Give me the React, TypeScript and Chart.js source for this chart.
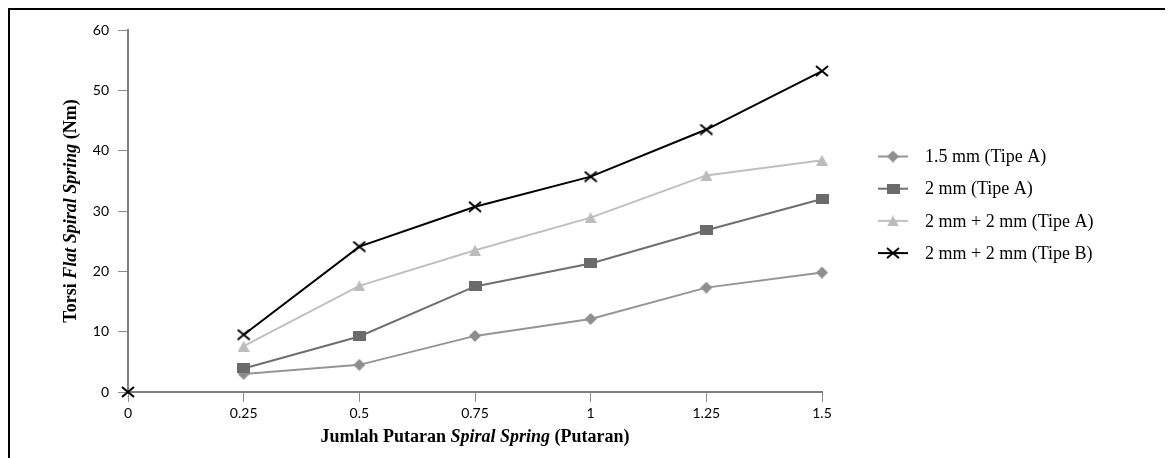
import React, { useEffect, useRef } from 'react';
import { Chart, registerables } from 'chart.js';

Chart.register(...registerables);

// ---- data ----
const xValues = [0.25, 0.5, 0.75, 1, 1.25, 1.5];
const xTickValues = [0, 0.25, 0.5, 0.75, 1, 1.25, 1.5];
const xTickLabels = ['0', '0.25', '0.5', '0.75', '1', '1.25', '1.5'];
const yTickValues = [0, 10, 20, 30, 40, 50, 60];

const series15mmA = [3.0, 4.5, 9.3, 12.1, 17.3, 19.8];
const series2mmA = [3.9, 9.2, 17.5, 21.3, 26.8, 32.0];
const series2p2mmA = [7.6, 17.6, 23.5, 28.9, 35.9, 38.4];
const series2p2mmB = [9.5, 24.1, 30.7, 35.7, 43.5, 53.2];

const originX = [0];
const originY = [0];

const seriesNames = ['1.5 mm (Tipe A)', '2 mm (Tipe A)', '2 mm + 2 mm (Tipe A)', '2 mm + 2 mm (Tipe B)'];

const yTitleParts = [
  { text: 'Torsi ', italic: false },
  { text: 'Flat Spiral Spring', italic: true },
  { text: ' (Nm)', italic: false },
];
const xTitleParts = [
  { text: 'Jumlah Putaran ', italic: false },
  { text: 'Spiral Spring', italic: true },
  { text: ' (Putaran)', italic: false },
];

// ---- marker images ----
function makeMarker(kind: string, color: string): HTMLCanvasElement {
  const c = document.createElement('canvas');
  let w = 12, h = 12;
  if (kind === 'rect') { w = 13; h = 10; }
  if (kind === 'triangle') { w = 12; h = 11; }
  if (kind === 'cross') { w = 14; h = 12; }
  c.width = w; c.height = h;
  const ctx = c.getContext('2d')!;
  ctx.fillStyle = color;
  ctx.strokeStyle = color;
  if (kind === 'diamond') {
    ctx.beginPath();
    ctx.moveTo(w / 2, 0); ctx.lineTo(w, h / 2); ctx.lineTo(w / 2, h); ctx.lineTo(0, h / 2);
    ctx.closePath(); ctx.fill();
  } else if (kind === 'rect') {
    ctx.fillRect(0, 0, w, h);
  } else if (kind === 'triangle') {
    ctx.beginPath();
    ctx.moveTo(w / 2, 0); ctx.lineTo(w, h); ctx.lineTo(0, h);
    ctx.closePath(); ctx.fill();
  } else if (kind === 'cross') {
    ctx.lineWidth = 2;
    ctx.beginPath();
    ctx.moveTo(1, 1); ctx.lineTo(w - 1, h - 1);
    ctx.moveTo(w - 1, 1); ctx.lineTo(1, h - 1);
    ctx.stroke();
  }
  return c;
}

function drawParts(ctx: CanvasRenderingContext2D, parts: { text: string; italic: boolean }[], size: number) {
  const fontFor = (it: boolean) => `${it ? 'italic ' : ''}bold ${size}px "Liberation Serif", "Times New Roman", serif`;
  let total = 0;
  const widths = parts.map(p => { ctx.font = fontFor(p.italic); const w = ctx.measureText(p.text).width; total += w; return w; });
  let x = -total / 2;
  ctx.textAlign = 'left';
  ctx.textBaseline = 'alphabetic';
  parts.forEach((p, i) => { ctx.font = fontFor(p.italic); ctx.fillText(p.text, x, 0); x += widths[i]; });
}

export default function App() {
  const ref = useRef<HTMLCanvasElement | null>(null);

  useEffect(() => {
    if (!ref.current) return;
    const lineColors = ['#959595', '#6f6f6f', '#c0c0c0', '#000000'];
    const markers = [
      makeMarker('diamond', '#8e8e8e'),
      makeMarker('rect', '#6b6b6b'),
      makeMarker('triangle', '#bcbcbc'),
      makeMarker('cross', '#000000'),
    ];
    const allSeries = [series15mmA, series2mmA, series2p2mmA, series2p2mmB];

    const datasets: any[] = allSeries.map((s, k) => ({
      label: seriesNames[k],
      data: xValues.map((x, i) => ({ x, y: s[i] })),
      borderColor: lineColors[k],
      backgroundColor: lineColors[k],
      borderWidth: 2,
      pointStyle: markers[k],
      pointRadius: 6,
      pointHoverRadius: 6,
      tension: 0,
      clip: false,
      order: 4 - k,
    }));
    datasets.push({
      label: 'origin',
      data: originX.map((x, i) => ({ x, y: originY[i] })),
      showLine: false,
      pointStyle: markers[3],
      pointRadius: 6,
      borderColor: '#000',
      backgroundColor: '#000',
      clip: false,
      order: 0,
    });

    const overlay = {
      id: 'overlay',
      afterDraw(chart: any) {
        const ctx: CanvasRenderingContext2D = chart.ctx;
        const ca = chart.chartArea;
        ctx.save();
        ctx.fillStyle = '#000';
        // x title
        ctx.save();
        ctx.translate((ca.left + ca.right) / 2, 432);
        drawParts(ctx, xTitleParts, 18);
        ctx.restore();
        // y title
        ctx.save();
        ctx.translate(66, (ca.top + ca.bottom) / 2);
        ctx.rotate(-Math.PI / 2);
        drawParts(ctx, yTitleParts, 18);
        ctx.restore();
        // legend
        seriesNames.forEach((name, k) => {
          const y = 146.5 + 32.2 * k;
          ctx.strokeStyle = lineColors[k];
          ctx.lineWidth = 2;
          ctx.beginPath();
          ctx.moveTo(868, y);
          ctx.lineTo(898, y);
          ctx.stroke();
          const m = markers[k];
          ctx.drawImage(m, 883 - m.width / 2, y - m.height / 2);
          ctx.fillStyle = '#000';
          ctx.font = '18px "Liberation Serif", "Times New Roman", serif';
          ctx.textAlign = 'left';
          ctx.textBaseline = 'middle';
          ctx.fillText(name, 915, y + 1);
        });
        ctx.restore();
      },
    };

    const chart = new Chart(ref.current, {
      type: 'line',
      data: { datasets },
      plugins: [overlay],
      options: {
        responsive: false,
        animation: false,
        devicePixelRatio: 1,
        layout: { padding: { top: 20, right: 351, left: 0, bottom: 0 } },
        plugins: { legend: { display: false }, tooltip: { enabled: false } },
        scales: {
          x: {
            type: 'linear',
            min: 0,
            max: 1.5,
            afterBuildTicks: (s: any) => { s.ticks = xTickValues.map(v => ({ value: v })); },
            afterFit: (s: any) => { s.height = 66; },
            ticks: {
              callback: (v: any) => {
                const i = xTickValues.findIndex(t => Math.abs(t - Number(v)) < 1e-9);
                return i >= 0 ? xTickLabels[i] : '';
              },
              font: { family: 'Lato', size: 14 },
              color: '#000',
              padding: 3,
              maxRotation: 0,
              autoSkip: false,
            },
            grid: { display: true, drawOnChartArea: false, drawTicks: true, tickLength: 10, color: '#8c8c8c', lineWidth: 1 },
            border: { display: true, color: '#7f7f7f', width: 2 },
          },
          y: {
            type: 'linear',
            min: 0,
            max: 60,
            afterBuildTicks: (s: any) => { s.ticks = yTickValues.map(v => ({ value: v })); },
            afterFit: (s: any) => { s.width = 118; },
            ticks: {
              font: { family: 'Lato', size: 14 },
              color: '#000',
              padding: 9,
            },
            grid: { display: true, drawOnChartArea: false, drawTicks: true, tickLength: 10, color: '#8c8c8c', lineWidth: 1 },
            border: { display: true, color: '#7f7f7f', width: 2 },
          },
        },
      } as any,
    });
    return () => chart.destroy();
  }, []);

  return (
    <div
      style={{
        position: 'relative',
        width: 1165,
        height: 450,
        boxSizing: 'border-box',
        borderLeft: '2px solid #000',
        borderTop: '2px solid #000',
        overflow: 'hidden',
        background: '#fff',
      }}
    >
      <canvas ref={ref} width={1163} height={448} style={{ display: 'block', width: 1163, height: 448 }} />
    </div>
  );
}
